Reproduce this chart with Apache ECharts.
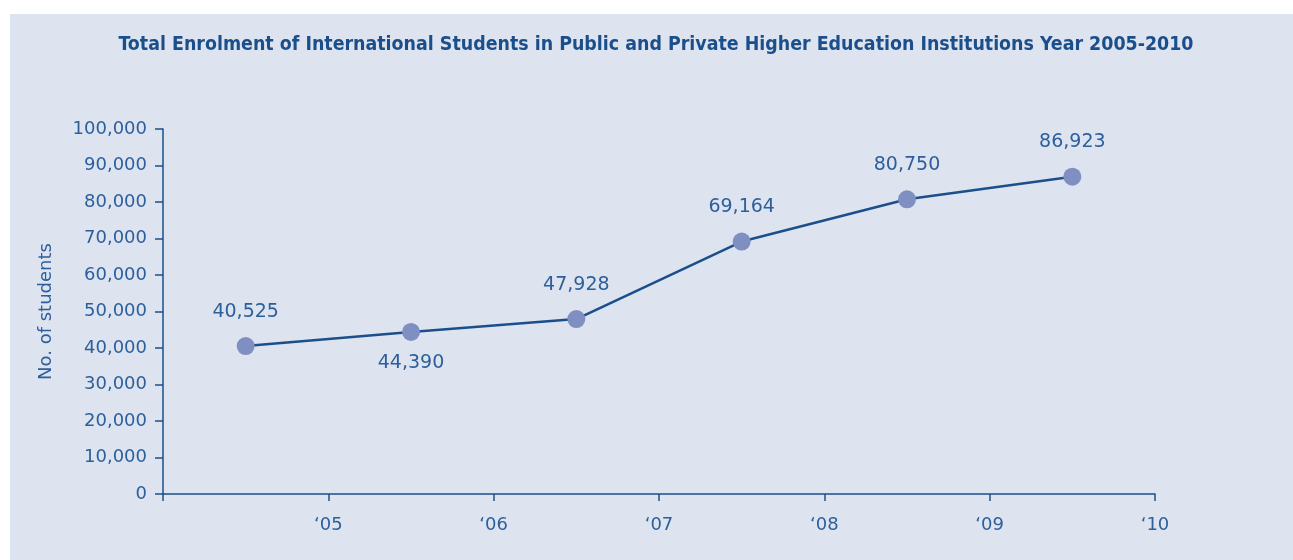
<!DOCTYPE html>
<html>
<head>
<meta charset="utf-8">
<script src="https://cdn.jsdelivr.net/npm/echarts@6/dist/echarts.min.js"></script>
<style>
  html, body { margin: 0; padding: 0; background: #ffffff; }
  #chart { width: 1293px; height: 560px; }
</style>
</head>
<body>
<div id="chart"></div>
<script>
// Enrolment of international students, one value per academic year
const years = ['2005', '2006', '2007', '2008', '2009', '2010'];
const enrolment = [40525, 44390, 47928, 69164, 80750, 86923];
const labelBelow = [false, true, false, false, false, false];
// Year tick labels sit on the boundaries between years
const xTickLabels = ['', '\u201805', '\u201806', '\u201807', '\u201808', '\u201809', '\u201810'];
const yTicks = [0, 10000, 20000, 30000, 40000, 50000, 60000, 70000, 80000, 90000, 100000];

const textColor = '#2c5f9c';
const lineColor = '#1b4f8c';
const markerColor = '#7f8fc2';
const panelColor = '#dde3ef';

const chart = echarts.init(document.getElementById('chart'), null, { renderer: 'canvas' });

// each year is centred between two boundary ticks
const points = enrolment.map((v, i) => ({
  value: [i + 0.5, v],
  label: {
    position: labelBelow[i] ? 'bottom' : 'top',
    distance: labelBelow[i] ? 13 : 16
  }
}));

chart.setOption({
  backgroundColor: 'transparent',
  animation: false,
  graphic: [{
    type: 'rect',
    z: -10,
    shape: { x: 10, y: 14, width: 1283, height: 546 },
    style: { fill: panelColor }
  }],
  title: {
    text: 'Total Enrolment of International Students in Public and Private Higher Education Institutions Year 2005-2010',
    left: 651,
    textAlign: 'center',
    top: 30,
    textStyle: {
      fontFamily: '"Liberation Sans Narrow", "DejaVu Sans Condensed", sans-serif',
      fontWeight: 'bold',
      fontSize: 19.4,
      color: lineColor
    }
  },
  grid: { left: 163, right: 138, top: 129, bottom: 66, containLabel: false },
  xAxis: {
    type: 'value',
    min: 0,
    max: 6,
    interval: 1,
    splitLine: { show: false },
    axisLine: { show: true, lineStyle: { color: lineColor, width: 1.5 } },
    axisTick: { show: true, length: 7, lineStyle: { color: lineColor, width: 1.5 } },
    axisLabel: {
      margin: 22,
      color: textColor,
      fontFamily: '"DejaVu Sans", sans-serif',
      fontSize: 18,
      formatter: v => xTickLabels[Math.round(v)] || ''
    }
  },
  yAxis: {
    type: 'value',
    min: yTicks[0],
    max: yTicks[yTicks.length - 1],
    interval: 10000,
    name: 'No. of students',
    nameLocation: 'middle',
    nameGap: 108,
    nameTextStyle: {
      color: textColor,
      fontFamily: '"DejaVu Sans", sans-serif',
      fontSize: 18
    },
    splitLine: { show: false },
    axisLine: { show: true, lineStyle: { color: lineColor, width: 1.5 } },
    axisTick: { show: true, length: 8, lineStyle: { color: lineColor, width: 1.5 } },
    axisLabel: {
      margin: 16,
      color: textColor,
      fontFamily: '"DejaVu Sans", sans-serif',
      fontSize: 18,
      formatter: v => v.toLocaleString('en-US')
    }
  },
  series: [{
    type: 'line',
    name: 'Enrolment',
    data: points,
    symbol: 'circle',
    symbolSize: 18,
    lineStyle: { color: lineColor, width: 2.5 },
    itemStyle: { color: markerColor },
    label: {
      show: true,
      color: textColor,
      fontFamily: '"DejaVu Sans", sans-serif',
      fontSize: 19,
      formatter: p => p.value[1].toLocaleString('en-US')
    }
  }]
});
</script>
</body>
</html>
